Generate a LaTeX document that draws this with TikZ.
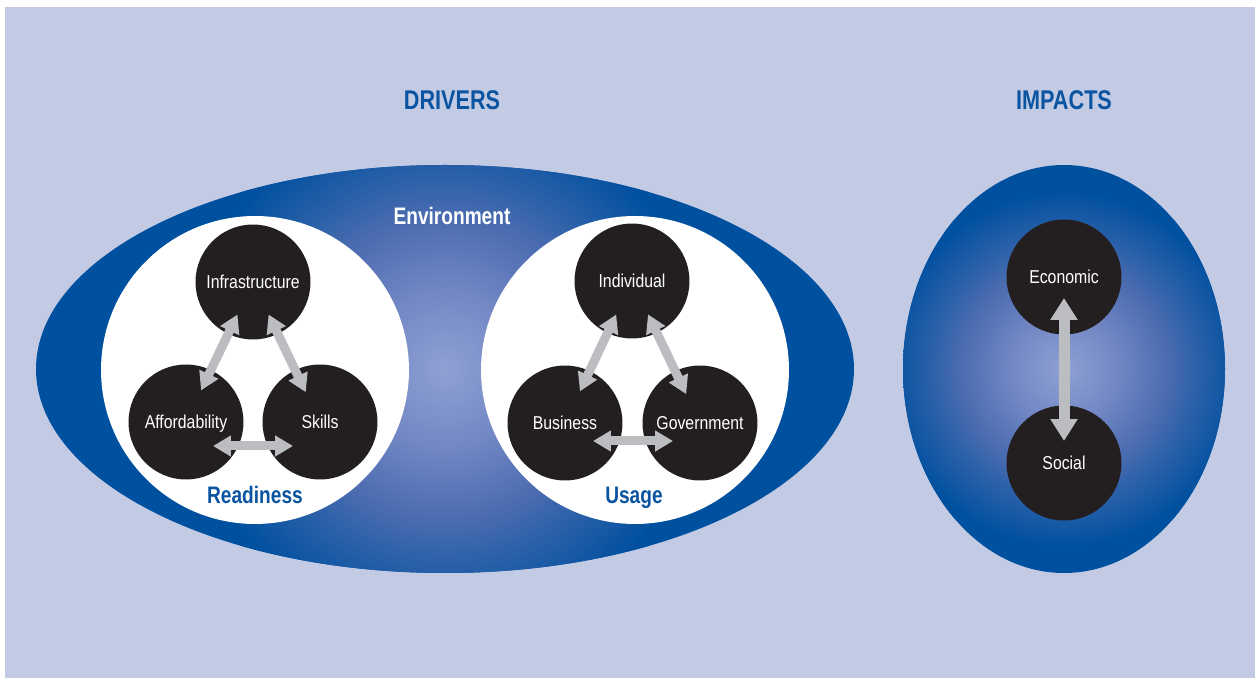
\documentclass[tikz,border=0pt]{standalone}
\usepackage{fontspec}
\usepackage{tikz}
\usetikzlibrary{arrows.meta}
\usetikzlibrary{calc}

\newfontfamily\narrowfont{Liberation Sans}[FakeStretch=0.85]
\newfontfamily\headfont{Liberation Sans}[FakeStretch=0.8]

\definecolor{bgcol}{HTML}{C3CAE4}
\definecolor{deepblue}{HTML}{0050A0}
\definecolor{headblue}{HTML}{0A54A2}
\definecolor{blobcol}{HTML}{231F20}
\definecolor{arrowgray}{HTML}{BBBDC0}
\definecolor{shA}{HTML}{8FA1D3}
\definecolor{shB}{HTML}{7186C4}
\definecolor{shC}{HTML}{4A6BB0}
\definecolor{shD}{HTML}{2F62A9}

\pgfdeclareradialshading{envshade}{\pgfpoint{0bp}{0bp}}{color(0bp)=(shA); color(7.5bp)=(shB); color(14.2bp)=(shC); color(17.5bp)=(shD); color(24bp)=(deepblue); color(50bp)=(deepblue)}

\tikzset{
  blob/.style={circle,fill=blobcol,minimum size=2.3cm,inner sep=0pt,text height=1.9ex,text depth=0.3ex,text=white,font=\narrowfont\fontsize{10.6}{12}\selectfont},
  ring/.style={circle,fill=white,minimum size=6.16cm,inner sep=0pt},
  bigtitle/.style={text=headblue,font=\headfont\bfseries\fontsize{15.4}{18}\selectfont},
  subtitle/.style={text=headblue,text height=1.9ex,text depth=0.45ex,font=\headfont\bfseries\fontsize{13.6}{16}\selectfont},
  biarrow/.style={draw=arrowgray,line width=0.18cm,{Triangle[width=0.4cm,length=0.36cm]}-{Triangle[width=0.4cm,length=0.36cm]}},
  bigarrow/.style={draw=arrowgray,line width=0.22cm,{Triangle[width=0.52cm,length=0.44cm]}-{Triangle[width=0.52cm,length=0.44cm]}}
}

\begin{document}
\begin{tikzpicture}[x=0.02cm,y=-0.02cm]
     \useasboundingbox (0,0) rectangle (1255,678);
     \fill[bgcol] (5,7) rectangle (1255,678);

     % titles
     \node (drv) at (452,100) [bigtitle] {DRIVERS};
     \node (imp) at (1064,100) [bigtitle] {IMPACTS};

     % environment and impacts ellipses
     \begin{scope}
       \clip (445,369) ellipse [x radius=409, y radius=204];
       \fill[deepblue] (30,160) rectangle (860,580);
       \shade[shading=envshade] (445,369) circle [radius=270];
     \end{scope}
     \begin{scope}
       \clip (1064,369) ellipse [x radius=161, y radius=204];
       \fill[deepblue] (900,160) rectangle (1230,580);
       \shade[shading=envshade] (1064,369) circle [radius=185];
     \end{scope}
     \node (env) at (452,216) [text=white,font=\headfont\bfseries\fontsize{13.6}{16}\selectfont] {Environment};

     \node (rdy) at (255,370) [ring] {};
     \node (usg) at (635,370) [ring] {};
     \node () at (255,498) [subtitle] {Readiness};
     \node () at (634,498) [subtitle] {Usage};

     {
     \foreach \n/\x/\y/\t in {inf/253/282/Infrastructure, aff/186/422/Affordability, ski/320/422/Skills,
                              ind/632/281/Individual, bus/565/423/Business, gov/700/423/Government,
                              eco/1064/277/Economic, soc/1064/463/Social} {
     	\node (\n) at (\x,\y) [blob] {\t};
     }
     }

     % readiness
     \draw[biarrow,shorten <=0.72cm,shorten >=0.7cm] (inf.center) -- (aff.center);
     \draw[biarrow,shorten <=0.72cm,shorten >=0.66cm] (inf.center) -- (ski.center);
     \draw[biarrow,shorten <=0.54cm,shorten >=0.54cm] ([yshift=-0.48cm]aff.center) -- ([yshift=-0.48cm]ski.center);

     % usage
     \draw[biarrow,shorten <=0.74cm,shorten >=0.7cm] (ind.center) -- (bus.center);
     \draw[biarrow,shorten <=0.74cm,shorten >=0.64cm] (ind.center) -- (gov.center);
     \draw[biarrow,shorten <=0.56cm,shorten >=0.54cm] ([yshift=-0.36cm]bus.center) -- ([yshift=-0.36cm]gov.center);

     % impacts
     \draw[bigarrow,shorten <=0.42cm,shorten >=0.44cm] (eco.center) -- (soc.center);

\end{tikzpicture}
\end{document}
